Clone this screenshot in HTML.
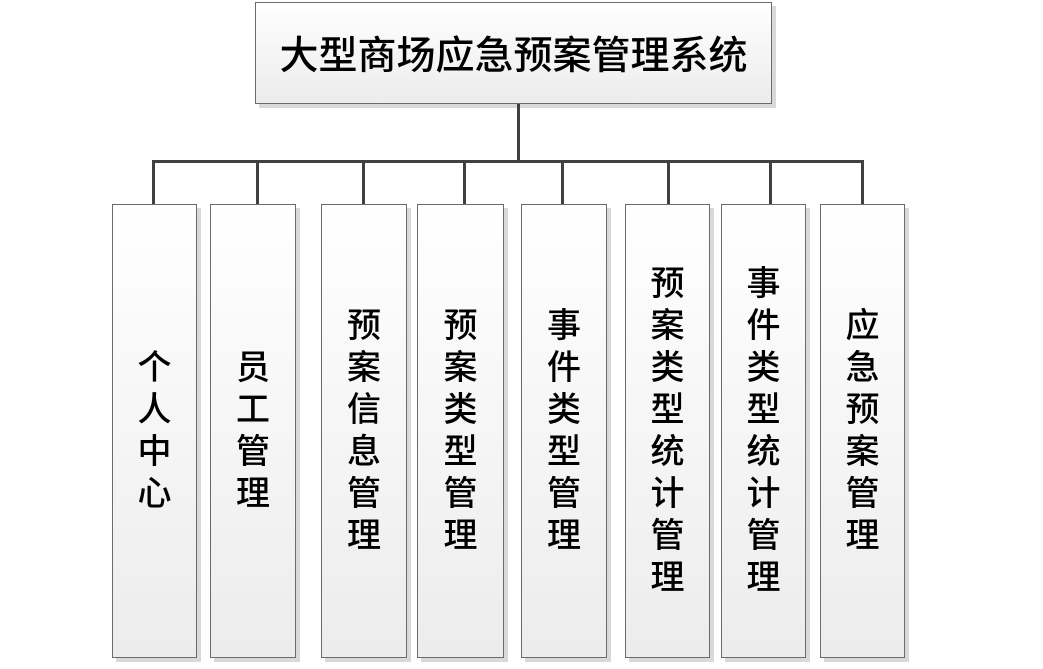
<!DOCTYPE html>
<html><head><meta charset="utf-8"><style>
body{margin:0;width:1043px;height:669px;background:#fff;position:relative;overflow:hidden;font-family:"Liberation Sans","Noto Sans CJK SC",sans-serif;}
.b{position:absolute;box-sizing:border-box;border:1px solid #6b6b6b;background:linear-gradient(#fff,#ececec);box-shadow:4px 4px 0 #d9d9d9;display:flex;align-items:center;justify-content:center;color:#000;font-weight:500;}
.v{font-size:34px;line-height:42px;width:40px;text-align:center;word-break:break-all;}
.l{position:absolute;background:#404040;}
</style></head><body>
<div class="b" style="left:255px;top:2px;width:517px;height:102px;font-size:39px;">大型商场应急预案管理系统</div>
<div class="l" style="left:517px;top:104px;width:3px;height:59px"></div>
<div class="l" style="left:152px;top:160px;width:712px;height:3px"></div>
<div class="l" style="left:152px;top:160px;width:3px;height:45px"></div>
<div class="l" style="left:256px;top:160px;width:3px;height:45px"></div>
<div class="l" style="left:362px;top:160px;width:3px;height:45px"></div>
<div class="l" style="left:463px;top:160px;width:3px;height:45px"></div>
<div class="l" style="left:561px;top:160px;width:3px;height:45px"></div>
<div class="l" style="left:667px;top:160px;width:3px;height:45px"></div>
<div class="l" style="left:769px;top:160px;width:3px;height:45px"></div>
<div class="l" style="left:861px;top:160px;width:3px;height:45px"></div>
<div class="b" style="left:112px;top:204px;width:85px;height:454px"><div class="v">个人中心</div></div>
<div class="b" style="left:210px;top:204px;width:86px;height:454px"><div class="v">员工管理</div></div>
<div class="b" style="left:321px;top:204px;width:86px;height:454px"><div class="v">预案信息管理</div></div>
<div class="b" style="left:417px;top:204px;width:87px;height:454px"><div class="v">预案类型管理</div></div>
<div class="b" style="left:521px;top:204px;width:86px;height:454px"><div class="v">事件类型管理</div></div>
<div class="b" style="left:625px;top:204px;width:85px;height:454px"><div class="v">预案类型统计管理</div></div>
<div class="b" style="left:721px;top:204px;width:85px;height:454px"><div class="v">事件类型统计管理</div></div>
<div class="b" style="left:820px;top:204px;width:85px;height:454px"><div class="v">应急预案管理</div></div>
</body></html>
